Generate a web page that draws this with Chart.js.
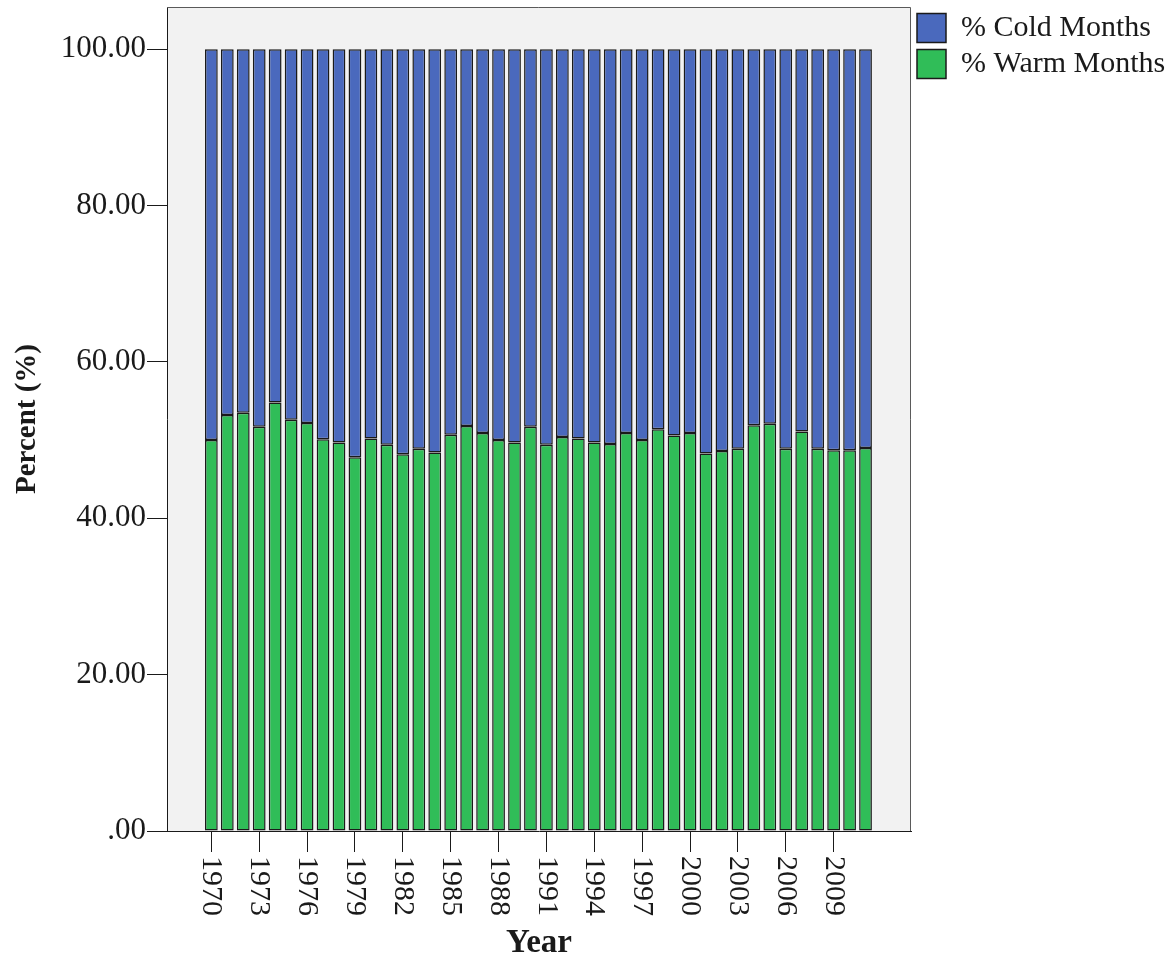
<!DOCTYPE html>
<html>
<head>
<meta charset="utf-8">
<script src="https://cdn.jsdelivr.net/npm/chart.js@4/dist/chart.umd.min.js"></script>
<style>
    html, body { margin: 0; padding: 0; background: #ffffff; }
    #wrap { width: 1170px; height: 964px; }
</style>
</head>
<body>
<div id="wrap"><canvas id="pctChart" width="1170" height="964"></canvas></div>
<script>
    const years = [
        1970, 1971, 1972, 1973, 1974, 1975, 1976, 1977, 1978, 1979,
        1980, 1981, 1982, 1983, 1984, 1985, 1986, 1987, 1988, 1989,
        1990, 1991, 1992, 1993, 1994, 1995, 1996, 1997, 1998, 1999,
        2000, 2001, 2002, 2003, 2004, 2005, 2006, 2007, 2008, 2009,
        2010, 2011
    ];
    const warmPct = [
        50.0, 53.2, 53.5, 51.7, 54.8, 52.6, 52.2, 50.1, 49.7, 47.8,
        50.2, 49.4, 48.2, 48.9, 48.4, 50.7, 51.8, 50.9, 50.0, 49.7,
        51.7, 49.4, 50.4, 50.2, 49.7, 49.5, 50.9, 50.0, 51.4, 50.6,
        50.9, 48.3, 48.6, 48.9, 51.9, 52.1, 48.9, 51.1, 48.9, 48.7,
        48.7, 49.0
    ];
    const coldPct = [
        50.0, 46.8, 46.5, 48.3, 45.2, 47.4, 47.8, 49.9, 50.3, 52.2,
        49.8, 50.6, 51.8, 51.1, 51.6, 49.3, 48.2, 49.1, 50.0, 50.3,
        48.3, 50.6, 49.6, 49.8, 50.3, 50.5, 49.1, 50.0, 48.6, 49.4,
        49.1, 51.7, 51.4, 51.1, 48.1, 47.9, 51.1, 48.9, 51.1, 51.3,
        51.3, 51.0
    ];
    const xTickYears = [1970, 1973, 1976, 1979, 1982, 1985, 1988, 1991, 1994, 1997, 2000, 2003, 2006, 2009];
    const yTicks = [0, 20, 40, 60, 80, 100];
    const yTickLabels = ['.00', '20.00', '40.00', '60.00', '80.00', '100.00'];

    const serif = "'Liberation Serif', 'Times New Roman', serif";
    const textColor = '#1a1a1a';

    // grey plot frame behind the bars
    const frameBg = {
        id: 'frameBg',
        beforeDraw(chart) {
            const { ctx, chartArea: a } = chart;
            ctx.save();
            ctx.fillStyle = '#f2f2f2';
            ctx.fillRect(a.left, a.top, a.right - a.left, a.bottom - a.top);
            ctx.restore();
        },
        afterDraw(chart) {
            const { ctx, chartArea: a } = chart;
            ctx.save();
            ctx.strokeStyle = '#5a5a5a';
            ctx.lineWidth = 1;
            ctx.beginPath();
            ctx.moveTo(a.left, a.top + 0.5);
            ctx.lineTo(a.right - 0.5, a.top + 0.5);
            ctx.lineTo(a.right - 0.5, a.bottom);
            ctx.stroke();
            ctx.restore();
        }
    };

    // year labels read top to bottom, so they are drawn here
    const yearLabels = {
        id: 'yearLabels',
        afterDraw(chart) {
            const { ctx } = chart;
            const scale = chart.scales.x;
            ctx.save();
            ctx.font = '30px ' + serif;
            ctx.fillStyle = textColor;
            ctx.textAlign = 'left';
            ctx.textBaseline = 'middle';
            scale.ticks.forEach(t => {
                const px = scale.getPixelForValue(t.value);
                ctx.save();
                ctx.translate(px, scale.top + 25);
                ctx.rotate(Math.PI / 2);
                ctx.fillText(String(t.value), 0, 0);
                ctx.restore();
            });
            ctx.restore();
        }
    };

    const ctx = document.getElementById('pctChart').getContext('2d');
    new Chart(ctx, {
        type: 'bar',
        data: {
            datasets: [{
                label: '% Warm Months',
                data: years.map((y, i) => ({ x: y, y: warmPct[i] })),
                backgroundColor: '#30bd58',
                borderColor: '#1a1a1a',
                borderWidth: 1.5,
                borderSkipped: false
            }, {
                label: '% Cold Months',
                data: years.map((y, i) => ({ x: y, y: coldPct[i] })),
                backgroundColor: '#4a69bd',
                borderColor: '#1a1a1a',
                borderWidth: 1.5,
                borderSkipped: false
            }]
        },
        plugins: [frameBg, yearLabels],
        options: {
            responsive: false,
            animation: false,
            devicePixelRatio: 1,
            categoryPercentage: 1,
            barPercentage: 0.8,
            layout: { padding: { top: 7, right: 0, left: 0, bottom: 0 } },
            plugins: {
                tooltip: { enabled: false },
                legend: {
                    position: 'right',
                    align: 'start',
                    reverse: true,
                    maxWidth: 259,
                    labels: {
                        font: { family: serif, size: 30 },
                        color: textColor,
                        boxWidth: 29,
                        boxHeight: 29,
                        padding: 6
                    }
                }
            },
            scales: {
                x: {
                    type: 'linear',
                    stacked: true,
                    offset: false,
                    min: 1967.22,
                    max: 2013.85,
                    afterBuildTicks: scale => {
                        scale.ticks = xTickYears.map(v => ({ value: v }));
                    },
                    afterFit: scale => {
                        scale.height = 133;
                        scale.paddingLeft = 0;
                        scale.paddingRight = 0;
                    },
                    ticks: { display: false },
                    grid: {
                        offset: false,
                        drawOnChartArea: false,
                        drawTicks: true,
                        tickLength: 21,
                        color: textColor
                    },
                    border: { display: true, color: textColor, width: 1 },
                    title: {
                        display: true,
                        text: 'Year',
                        font: { family: serif, size: 33, weight: 'bold' },
                        color: textColor,
                        padding: { top: 0, bottom: 1 }
                    }
                },
                y: {
                    stacked: true,
                    min: 0,
                    max: 105.4,
                    afterBuildTicks: scale => {
                        scale.ticks = yTicks.map(v => ({ value: v }));
                    },
                    afterFit: scale => {
                        scale.width = 167;
                        scale.paddingTop = 0;
                        scale.paddingBottom = 0;
                    },
                    ticks: {
                        font: { family: serif, size: 31 },
                        color: textColor,
                        padding: 1,
                        callback: value => yTickLabels[yTicks.indexOf(value)]
                    },
                    grid: {
                        drawOnChartArea: false,
                        drawTicks: true,
                        tickLength: 20,
                        color: textColor
                    },
                    border: { display: true, color: textColor, width: 1 },
                    title: {
                        display: true,
                        text: 'Percent (%)',
                        font: { family: serif, size: 29, weight: 'bold' },
                        color: textColor,
                        padding: { top: 10, bottom: 0 }
                    }
                }
            }
        }
    });
</script>
</body>
</html>
